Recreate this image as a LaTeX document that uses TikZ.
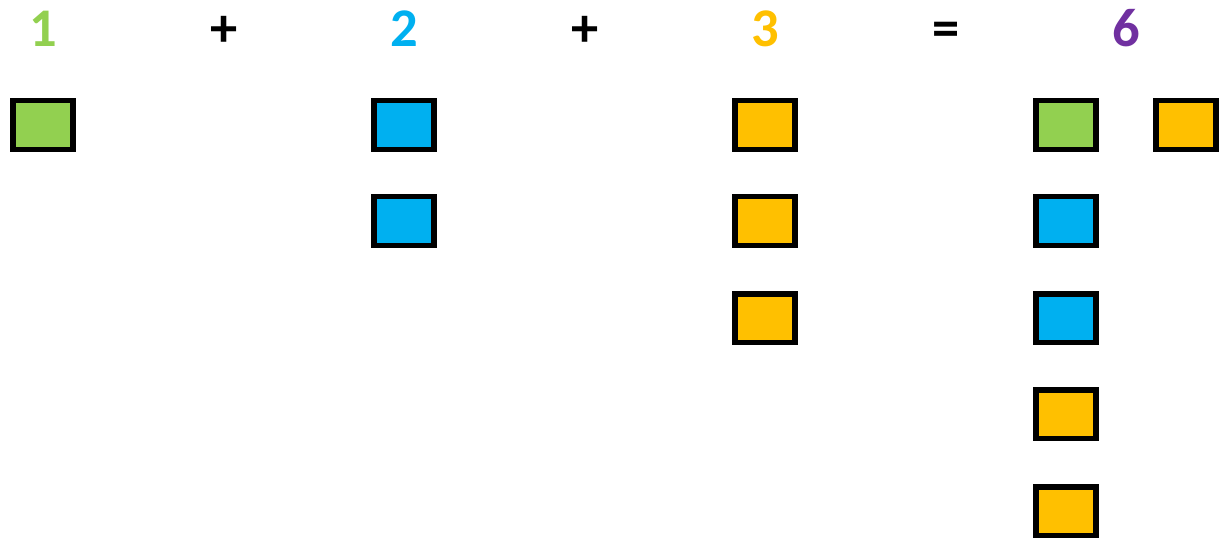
\documentclass[tikz,border=0pt]{standalone}
\usepackage{fontspec}
\setmainfont{Carlito}
\usetikzlibrary{positioning}
\definecolor{leaf}{RGB}{146,208,80}
\definecolor{sky}{RGB}{0,176,240}
\definecolor{gold}{RGB}{255,192,0}
\definecolor{plum}{RGB}{112,48,160}
\tikzset{
  tile/.style={draw=black,fill=#1,line width=3.4pt,minimum width=1.2cm,
    minimum height=0.98cm,inner sep=0pt},
  tile/.default=gold,
  num/.style={anchor=base,inner sep=0pt,font=\fontsize{31}{31}\selectfont\bfseries,text=#1},
  num/.default=black,
}

\begin{document}
\begin{tikzpicture}[x=0.02cm,y=-0.02cm]
  \useasboundingbox (0,0) rectangle (1219,538);
  % sum line
  \node[num=leaf] (t1) at (43,46) {1};
  \node[num] (p1) at (224,46) {+};
  \node[num=sky] (t2) at (404,46) {2};
  \node[num] (p2) at (585,46) {+};
  \node[num=gold] (t3) at (765,46) {3};
  \node[num] (eq) at (946,46) {=};
  \node[num=plum] (t6) at (1126,46) {6};
  % tiles of each addend
  \node[tile=leaf] (a1) at (43,125) {};
  \foreach \i/\y in {1/125,2/221}{
    \node[tile=sky] (b\i) at (404,\y) {};
  }
  \foreach \i/\y in {1/125,2/221,3/318}{
    \node[tile=gold] (c\i) at (765,\y) {};
  }
  % tiles of the total
  \foreach \i/\c/\y in {1/leaf/125,2/sky/221,3/sky/318,4/gold/414,5/gold/511}{
    \node[tile=\c] (s\i) at (1066,\y) {};
  }
  \node[tile=gold] (s6) at (1186,125) {};
\end{tikzpicture}
\end{document}
